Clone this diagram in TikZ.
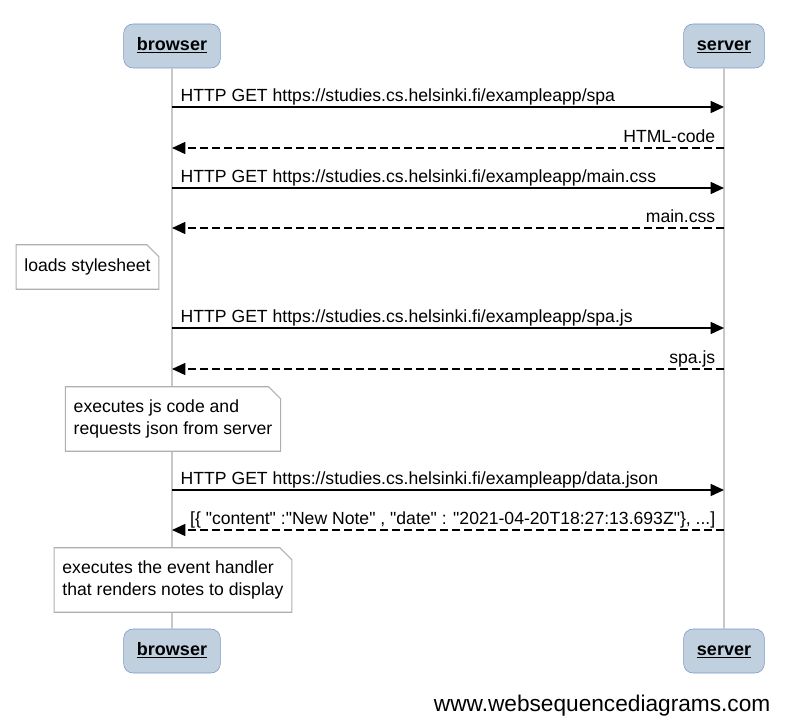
\documentclass[tikz,border=0pt]{standalone}
\usepackage{fontspec}
\setmainfont{Liberation Sans}
\usetikzlibrary{arrows.meta}
\definecolor{partfill}{RGB}{193,208,222}
\definecolor{partdraw}{RGB}{122,150,196}
\definecolor{lifegray}{RGB}{200,200,200}
\definecolor{notegray}{RGB}{175,175,175}

\begin{document}
\begin{tikzpicture}[x=0.75pt,y=-0.75pt,>={Triangle[length=10pt,width=9pt]},
  font=\fontsize{13.2}{16.3}\selectfont,line cap=butt,
  part/.style={draw=partdraw,fill=partfill,rounded corners=7pt,minimum height=33pt,inner xsep=10pt,text height=10pt,text depth=3pt,font=\fontsize{13.5}{16}\selectfont\bfseries},
  life/.style={lifegray,line width=1.1pt},
  msg/.style={->,line width=1.1pt},
  reply/.style={msg,dash pattern=on 6pt off 3pt},
  sendlabel/.style={pos=0,anchor=base west,inner xsep=0pt,xshift=6pt,yshift=4pt},
  replylabel/.style={pos=0,anchor=base east,inner xsep=0pt,xshift=-6pt,yshift=4pt},
  note/.style={fill=white,align=left,inner xsep=6pt,minimum height=33pt},
  notebox/.style={notegray,line width=0.8pt}]
\useasboundingbox (0,0) rectangle (788,727);
% participants
\node[part] (bT) at (172,46) {\underline{browser}};
\node[part] (sT) at (724,46) {\underline{server}};
\node[part] (bB) at (172,651) {\underline{browser}};
\node[part] (sB) at (724,651) {\underline{server}};
\draw[life] (bT.south) -- (bB.north);
\draw[life] (sT.south) -- (sB.north);
% notes
\node[note] (n1) at (87.5,267) {loads stylesheet};
\node[note,minimum height=48pt] (n2) at (173,419) {executes js code and\\requests json from server};
\node[note,minimum height=48pt] (n3) at (173,580) {executes the event handler\\that renders notes to display};
\foreach \n in {n1,n2,n3}
  \draw[notebox] (\n.north west) -- ([xshift=-9pt]\n.north east) -- ([yshift=-9pt]\n.north east)
    -- (\n.south east) -- (\n.south west) -- cycle;
% messages
\draw[msg] (bT.south |- 0,107) -- (sT.south |- 0,107)
  node[sendlabel]{HTTP GET https://studies.cs.helsinki.fi/exampleapp/spa};
\draw[reply] (sT.south |- 0,148) -- (bT.south |- 0,148)
  node[replylabel]{HTML-code};
\draw[msg] (bT.south |- 0,188) -- (sT.south |- 0,188)
  node[sendlabel]{HTTP GET https://studies.cs.helsinki.fi/exampleapp/main.css};
\draw[reply] (sT.south |- 0,228) -- (bT.south |- 0,228)
  node[replylabel]{main.css};
\draw[msg] (bT.south |- 0,328) -- (sT.south |- 0,328)
  node[sendlabel]{HTTP GET https://studies.cs.helsinki.fi/exampleapp/spa.js};
\draw[reply] (sT.south |- 0,369) -- (bT.south |- 0,369)
  node[replylabel]{spa.js};
\draw[msg] (bT.south |- 0,490) -- (sT.south |- 0,490)
  node[sendlabel]{HTTP GET https://studies.cs.helsinki.fi/exampleapp/data.json};
\draw[reply] (sT.south |- 0,530) -- (bT.south |- 0,530)
  node[replylabel]{[\{ \textquotedbl content\textquotedbl{} :\textquotedbl New Note\textquotedbl{} , \textquotedbl date\textquotedbl{} : \textquotedbl 2021-04-20T18:27:13.693Z\textquotedbl\}, ...]};
\node[font=\fontsize{17}{20}\selectfont,anchor=base east] (site) at (775,711) {www.websequencediagrams.com};
\end{tikzpicture}
\end{document}
